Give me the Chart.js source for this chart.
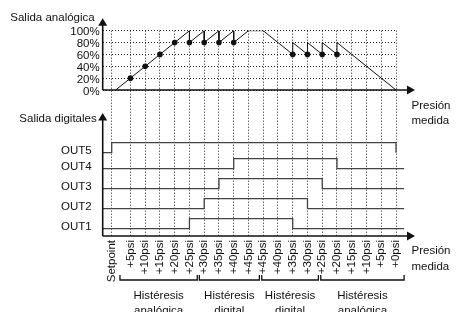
<!DOCTYPE html>
<html>
<head>
<meta charset="utf-8">
<script src="https://cdn.jsdelivr.net/npm/chart.js@4.4.1/dist/chart.umd.min.js"></script>
<style>
  body { margin: 0; background: #fff; }
  #wrap { width: 456px; height: 312px; }
</style>
</head>
<body>
<div id="wrap"><canvas id="chart" width="456" height="312"></canvas></div>
<script>
// pressure steps (x axis)
const stepLabels = ['Setpoint', '+5psi', '+10psi', '+15psi', '+20psi', '+25psi', '+30psi', '+35psi', '+40psi', '+45psi',
  '+45psi', '+40psi', '+35psi', '+30psi', '+25psi', '+20psi', '+15psi', '+10psi', '+5psi', '+0psi'];
const stepPos = [-0.27, 1, 2, 3, 4, 5, 6, 7, 8, 9, 10, 11, 12, 13, 14, 15, 16, 17, 18, 19];

// analog output in %
const analogX = [0, 4, 5, 5, 6, 6, 7, 7, 8, 8, 9, 10, 12, 12, 13, 13, 14, 14, 15, 15, 19];
const analogY = [0, 80, 100, 80, 100, 80, 100, 80, 100, 80, 100, 100, 60, 80, 60, 80, 60, 80, 60, 80, 0];
const dotX = [1, 2, 3, 4, 5, 6, 7, 8, 12, 13, 14, 15];
const dotY = [20, 40, 60, 80, 80, 80, 80, 80, 60, 60, 60, 60];
const pctTicks = [0, 20, 40, 60, 80, 100];

// digital outputs
const outNames = ['OUT1', 'OUT2', 'OUT3', 'OUT4', 'OUT5'];
const outLevel = [1, 2, 3, 4, 4.8];
const outOn = [5, 6, 7, 8, -0.27];
const outOff = [12, 13, 14, 15, 19];

// hysteresis brackets under the axis
const hystNames = ['analógica', 'digital', 'digital', 'analógica'];
const hystFrom = [0.29, 5.67, 9.9, 13.9];
const hystTo = [5.53, 9.74, 13.74, 19.55];

const X_MIN = -0.88, X_MAX = 19, LINE_END = 19.55, HIGH = 0.5;
const FONT = '"Liberation Sans", Arial, sans-serif';
Chart.defaults.font.family = FONT;
Chart.defaults.font.size = 11.5;
Chart.defaults.color = '#111';

const outSets = outNames.map((n, i) => ({
  label: n,
  yAxisID: 'yD',
  data: [
    {x: X_MIN, y: outLevel[i]},
    {x: outOn[i], y: outLevel[i] + HIGH},
    {x: outOff[i], y: outLevel[i]},
    {x: LINE_END, y: outLevel[i]},
  ],
  stepped: true,
  borderColor: '#444',
  borderWidth: 1.3,
  pointRadius: 0,
  clip: false,
}));

const dotted = {color: '#222', lineWidth: 1, drawTicks: false};

const decor = {
  id: 'decor',
  afterDatasetsDraw(chart) {
    const {ctx, chartArea: a, scales: {x, yA, yD}} = chart;
    ctx.save();
    ctx.strokeStyle = '#111';
    ctx.fillStyle = '#111';
    ctx.lineWidth = 1.6;
    const y0 = yA.getPixelForValue(0);
    const yb = a.bottom;
    const xEnd = a.right + 11, tipX = a.right + 19;
    [y0, yb].forEach(y => {
      ctx.beginPath(); ctx.moveTo(a.left, y); ctx.lineTo(xEnd, y); ctx.stroke();
      ctx.beginPath(); ctx.moveTo(tipX, y); ctx.lineTo(xEnd, y - 4.5); ctx.lineTo(xEnd, y + 4.5); ctx.closePath(); ctx.fill();
    });
    [[y0, a.top - 12.5], [yb, yD.top + 23]].forEach(([from, tip]) => {
      ctx.beginPath(); ctx.moveTo(a.left, from); ctx.lineTo(a.left, tip + 7); ctx.stroke();
      ctx.beginPath(); ctx.moveTo(a.left, tip); ctx.lineTo(a.left - 4.5, tip + 7.5); ctx.lineTo(a.left + 4.5, tip + 7.5); ctx.closePath(); ctx.fill();
    });

    ctx.font = '11.5px ' + FONT;
    ctx.textBaseline = 'alphabetic';
    ctx.textAlign = 'right';
    ctx.fillText('Salida analógica', a.left - 8, 21);
    ctx.fillText('Salida digitales', a.left - 6, yD.top + 32);
    ctx.textAlign = 'left';
    ctx.fillText('Presión', a.right + 15.5, y0 + 18.5);
    ctx.fillText('medida', a.right + 15.5, y0 + 34);
    ctx.fillText('Presión', a.right + 15.5, yb + 18);
    ctx.fillText('medida', a.right + 15.5, yb + 34);

    // brackets
    ctx.lineWidth = 1.3;
    ctx.textAlign = 'center';
    const by = yb + 44;
    hystNames.forEach((n, i) => {
      const x1 = x.getPixelForValue(hystFrom[i]), x2 = x.getPixelForValue(hystTo[i]);
      ctx.beginPath();
      ctx.moveTo(x1, by - 5); ctx.lineTo(x1, by); ctx.lineTo(x2, by); ctx.lineTo(x2, by - 5);
      ctx.stroke();
      const cx = (x1 + x2) / 2;
      ctx.fillText('Histéresis', cx, yb + 63);
      ctx.fillText(n, cx, yb + 77.5);
    });
    ctx.restore();
  }
};

new Chart(document.getElementById('chart'), {
  type: 'line',
  data: {
    datasets: [
      {
        label: 'analog',
        yAxisID: 'yA',
        data: analogX.map((v, i) => ({x: v, y: analogY[i]})),
        borderColor: '#111',
        borderWidth: 1,
        pointRadius: 0,
        tension: 0,
      },
      {
        label: 'points',
        yAxisID: 'yA',
        data: dotX.map((v, i) => ({x: v, y: dotY[i]})),
        showLine: false,
        pointRadius: 2.8,
        pointBorderWidth: 0,
        pointBackgroundColor: '#111',
      },
      ...outSets,
    ],
  },
  options: {
    responsive: false,
    animation: false,
    events: [],
    layout: {padding: {left: 0, top: 30.7, right: 60, bottom: 0}},
    plugins: {legend: {display: false}, tooltip: {enabled: false}},
    scales: {
      x: {
        type: 'linear',
        min: X_MIN,
        max: X_MAX,
        grid: dotted,
        border: {display: false, dash: [1, 2]},
        afterBuildTicks: s => { s.ticks = stepPos.map(v => ({value: v})); },
        afterFit: s => { s.height = 76; },
        ticks: {
          autoSkip: false,
          minRotation: 90,
          maxRotation: 90,
          padding: 4,
          callback: (v, i) => stepLabels[i],
        },
      },
      yD: {
        type: 'linear',
        position: 'left',
        stack: 'left',
        stackWeight: 146,
        min: 0.635,
        max: 7.935,
        grid: {display: false},
        border: {display: false},
        afterBuildTicks: s => { s.ticks = outLevel.map(v => ({value: v})); },
        afterFit: s => { s.width = 102.7; },
        ticks: {autoSkip: false, padding: 3, labelOffset: -1.5, callback: (v, i) => outNames[i]},
      },
      yA: {
        type: 'linear',
        position: 'left',
        stack: 'left',
        stackWeight: 59.3,
        min: 0,
        max: 100,
        grid: dotted,
        border: {display: false, dash: [1, 2]},
        afterBuildTicks: s => { s.ticks = pctTicks.map(v => ({value: v})); },
        afterFit: s => { s.width = 102.7; },
        ticks: {autoSkip: false, padding: 3, labelOffset: 1.5, callback: v => v + '%'},
      },
    },
  },
  plugins: [decor],
});
</script>
</body>
</html>
